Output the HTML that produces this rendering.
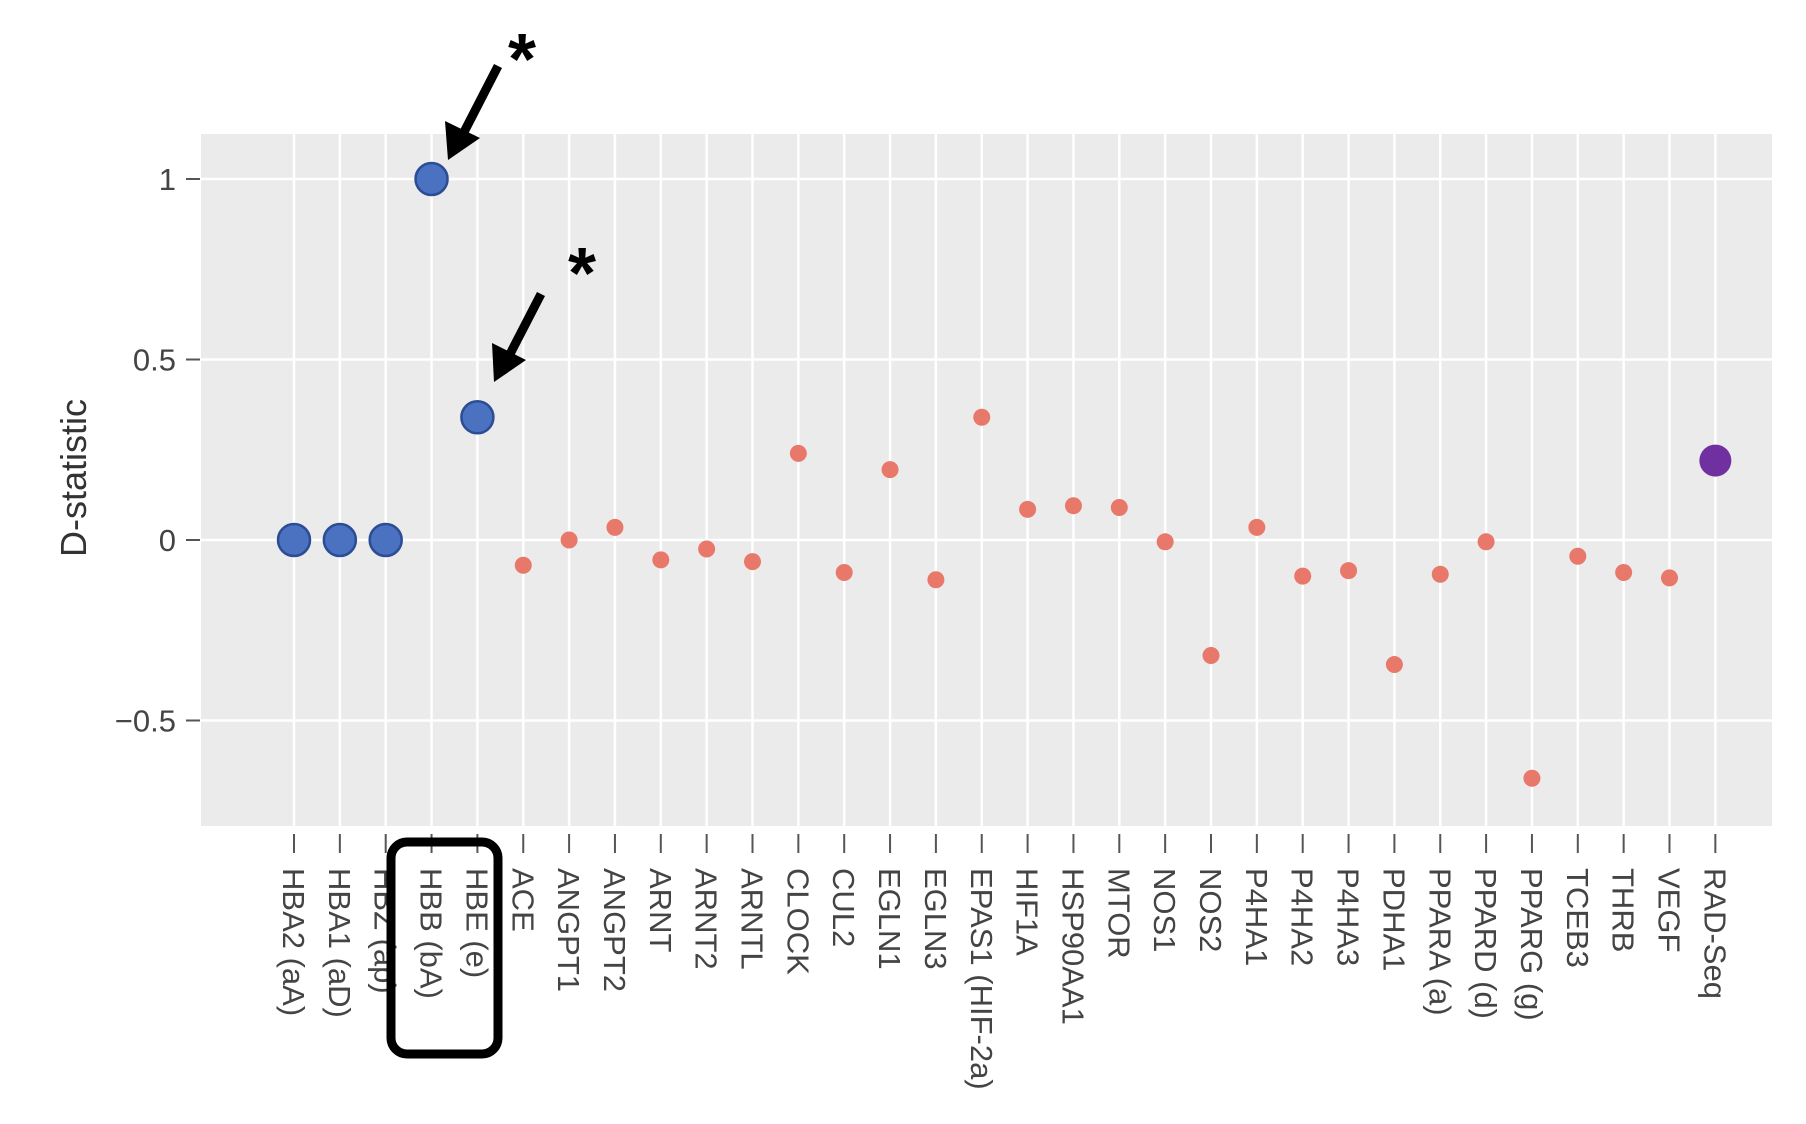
<!DOCTYPE html>
<html><head><meta charset="utf-8"><style>
html,body{margin:0;padding:0;background:#fff;}
svg{display:block;font-family:"Liberation Sans",sans-serif;}
</style></head><body>
<svg id="chart" width="1806" height="1124" viewBox="0 0 1806 1124">
<rect x="0" y="0" width="1806" height="1124" fill="#fff"/>
<rect x="201" y="134" width="1571" height="692" fill="#ebebeb"/>
<g id="grid"></g>
<g id="yaxis"></g>
<g id="xaxis"></g>
<g id="points"></g>
<text x="86" y="478" transform="rotate(-90 86 478)" text-anchor="middle" font-size="36" fill="#333">D-statistic</text>
<g>
<line x1="498" y1="66" x2="462" y2="136" stroke="#000" stroke-width="9"/>
<polygon points="448,160 445,121 480,138" fill="#000"/>
<text x="522" y="84" font-size="72" font-weight="bold" text-anchor="middle" fill="#000">*</text>
</g>
<g>
<line x1="541" y1="294" x2="508" y2="358" stroke="#000" stroke-width="9"/>
<polygon points="494,382 492,343 526,360" fill="#000"/>
<text x="582" y="298" font-size="72" font-weight="bold" text-anchor="middle" fill="#000">*</text>
</g>
<rect x="391" y="842" width="107" height="212" rx="16" ry="16" fill="none" stroke="#000" stroke-width="9"/>
</svg>
<script>
const categories=["HBA2 (aA)","HBA1 (aD)","HBZ (ap)","HBB (bA)","HBE (e)","ACE","ANGPT1","ANGPT2","ARNT","ARNT2","ARNTL","CLOCK","CUL2","EGLN1","EGLN3","EPAS1 (HIF-2a)","HIF1A","HSP90AA1","MTOR","NOS1","NOS2","P4HA1","P4HA2","P4HA3","PDHA1","PPARA (a)","PPARD (d)","PPARG (g)","TCEB3","THRB","VEGF","RAD-Seq"];
const dValues=[0,0,0,1.0,0.34,-0.07,0.0,0.035,-0.055,-0.025,-0.06,0.24,-0.09,0.195,-0.11,0.34,0.085,0.095,0.09,-0.005,-0.32,0.035,-0.10,-0.085,-0.345,-0.095,-0.005,-0.66,-0.045,-0.09,-0.105,0.22];
const groups=["hb","hb","hb","hb","hb","gene","gene","gene","gene","gene","gene","gene","gene","gene","gene","gene","gene","gene","gene","gene","gene","gene","gene","gene","gene","gene","gene","gene","gene","gene","gene","rad"];
const yTicks=[1,0.5,0,-0.5];
const yTickLabels=["1","0.5","0","\u22120.5"];

const NS="http://www.w3.org/2000/svg";
const x=i=>294+i*45.85;
const y=v=>540-v*361;
function mk(tag,attrs,parent){const e=document.createElementNS(NS,tag);for(const k in attrs)e.setAttribute(k,attrs[k]);parent.appendChild(e);return e;}
const grid=document.getElementById('grid'),ya=document.getElementById('yaxis'),xa=document.getElementById('xaxis'),pts=document.getElementById('points');
yTicks.forEach((t,i)=>{
  const l=mk('line',{x1:201,x2:1772,y1:y(t),y2:y(t),stroke:'#fff','stroke-width':2.5},grid);
  
  
  const tk=mk('line',{x1:186,x2:200,y1:y(t),y2:y(t),stroke:'#555','stroke-width':2},ya);
  
  
  const tx=mk('text',{x:176,y:y(t)+11,'text-anchor':'end','font-size':31,fill:'#444'},ya);
  tx.textContent=yTickLabels[i];
  
  
});
categories.forEach((c,i)=>{
  const l=mk('line',{x1:x(i),x2:x(i),y1:134,y2:826,stroke:'#fff','stroke-width':2.5},grid);
  
  
  const tk=mk('line',{x1:x(i),x2:x(i),y1:834,y2:853,stroke:'#555','stroke-width':2},xa);
  
  
  const tx=mk('text',{x:0,y:0,'font-size':31,fill:'#444',transform:`translate(${x(i)-11},868) rotate(90)`},xa);
  tx.textContent=c;
  
  
});
dValues.forEach((v,i)=>{
  const g=groups[i];
  let attrs;
  if(g==='hb')attrs={cx:x(i),cy:y(v),r:16,fill:'#4a72c0',stroke:'#2c4c94','stroke-width':2.5};
  else if(g==='rad')attrs={cx:x(i),cy:y(v),r:16,fill:'#7030a0'};
  else attrs={cx:x(i),cy:y(v),r:8.5,fill:'#e8786a'};
  const c=mk('circle',attrs,pts);
  
  
});
</script>
</body></html>
